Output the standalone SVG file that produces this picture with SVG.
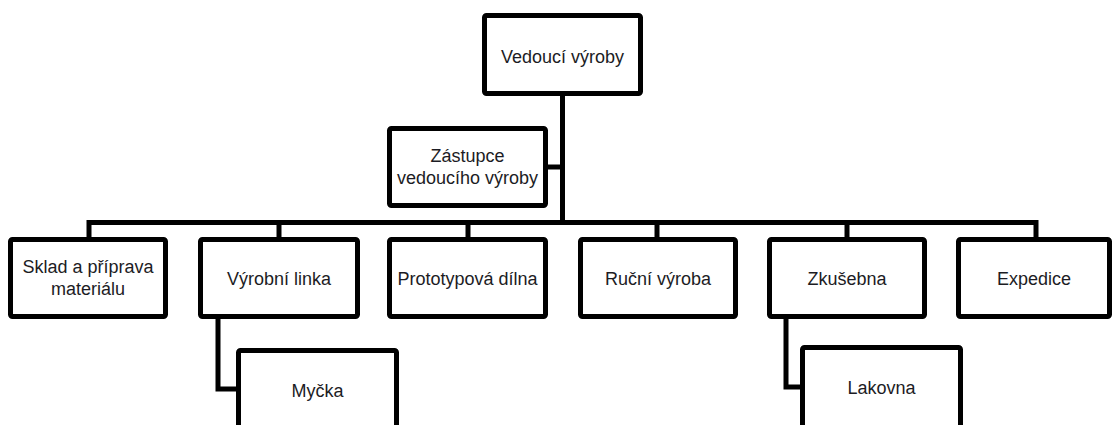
<svg xmlns="http://www.w3.org/2000/svg" width="1116" height="425" viewBox="0 0 1116 425">
  <style>
    .box { fill: #ffffff; stroke: #000000; stroke-width: 5; }
    .wire { fill: none; stroke: #000000; stroke-width: 5; stroke-linejoin: miter; stroke-linecap: butt; }
    .lbl { font-family: "Liberation Sans", Arial, sans-serif; font-size: 18px; fill: #1c1c24; text-anchor: middle; }
  </style>
  <rect width="1116" height="425" fill="#ffffff"/>

  <!-- connectors -->
  <g id="connectors">
    <path class="wire" d="M562.5 93.5 V222.5"/>
    <path class="wire" d="M545.5 167 H562.5"/>
    <path class="wire" d="M89 239.5 V222.5 H1036 V239.5"/>
    <path class="wire" d="M279 222.5 V239.5"/>
    <path class="wire" d="M468 222.5 V239.5"/>
    <path class="wire" d="M657 222.5 V239.5"/>
    <path class="wire" d="M847 222.5 V239.5"/>
    <path class="wire" d="M218 316.5 V389 H238.5"/>
    <path class="wire" d="M786 316.5 V387 H802.5"/>
  </g>

  <g id="vedouci">
    <rect class="box" x="484.5" y="15.5" width="156" height="78" rx="2"/>
    <text class="lbl" x="562.5" y="63">Vedoucí výroby</text>
  </g>

  <g id="zastupce">
    <rect class="box" x="389.5" y="128.5" width="156" height="77" rx="2"/>
    <text class="lbl" x="467.5" y="162">Zástupce</text>
    <text class="lbl" x="467.5" y="184">vedoucího výroby</text>
  </g>

  <g id="sklad">
    <rect class="box" x="10.5" y="239.5" width="155" height="77" rx="2"/>
    <text class="lbl" x="88" y="273">Sklad a příprava</text>
    <text class="lbl" x="88" y="295">materiálu</text>
  </g>

  <g id="vyrobni-linka">
    <rect class="box" x="200.5" y="239.5" width="157" height="77" rx="2"/>
    <text class="lbl" x="279" y="285">Výrobní linka</text>
  </g>

  <g id="prototypova-dilna">
    <rect class="box" x="389.5" y="239.5" width="156" height="77" rx="2"/>
    <text class="lbl" x="467.5" y="285">Prototypová dílna</text>
  </g>

  <g id="rucni-vyroba">
    <rect class="box" x="580.5" y="239.5" width="155" height="77" rx="2"/>
    <text class="lbl" x="658" y="285">Ruční výroba</text>
  </g>

  <g id="zkusebna">
    <rect class="box" x="769.5" y="239.5" width="155" height="77" rx="2"/>
    <text class="lbl" x="847" y="285">Zkušebna</text>
  </g>

  <g id="expedice">
    <rect class="box" x="958.5" y="239.5" width="151" height="77" rx="2"/>
    <text class="lbl" x="1034" y="285">Expedice</text>
  </g>

  <g id="mycka">
    <rect class="box" x="238.5" y="350.5" width="158" height="90" rx="2"/>
    <text class="lbl" x="317.5" y="397">Myčka</text>
  </g>

  <g id="lakovna">
    <rect class="box" x="802.5" y="347.5" width="158" height="90" rx="2"/>
    <text class="lbl" x="881.5" y="394">Lakovna</text>
  </g>
</svg>
